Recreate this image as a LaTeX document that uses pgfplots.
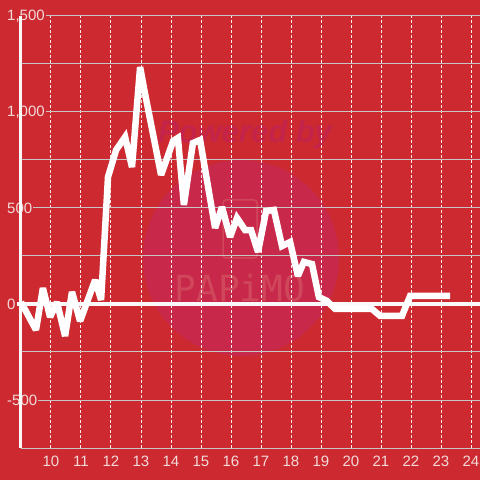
\documentclass[border=0pt]{standalone}
\usepackage{pgfplots}
\pgfplotsset{compat=1.18}
\usepackage{fontspec}
\setmainfont{Liberation Sans}
\newfontfamily\wmono{DejaVu Sans Mono}
\definecolor{bg}{HTML}{CC2A30}
\definecolor{circ}{HTML}{C8294A}
\definecolor{wmtext}{HTML}{C5244A}
\definecolor{wmlogo}{HTML}{D0465A}
\definecolor{gridgray}{HTML}{C9C4C4}
\definecolor{lbl}{HTML}{F2DADA}
\begin{document}
\begin{tikzpicture}[x=1pt,y=1pt]
\fill[bg] (-21,-32) rectangle (459,448);
\fill[circ] (220,190) circle (98);
\node[text=wmtext, font=\fontsize{31}{31}\selectfont\bfseries\itshape, inner sep=0pt] at (224,314) {Powered by};
\node[text=wmlogo, font=\wmono\fontsize{36}{36}\selectfont, inner sep=0pt] at (219,160) {PAPiMO};
\draw[wmlogo, line width=1.5pt, rounded corners=3pt] (202,190) rectangle (236,248);
\begin{axis}[
  at={(0,0)}, anchor=south west,
  scale only axis, width=459pt, height=432pt,
  xmin=9, xmax=24.3, ymin=-750, ymax=1500,
  clip=false,
  axis line style={draw=none},
  major tick length=0pt, minor tick length=0pt,
  /pgf/number format/assume math mode=true,
  xtick={10,...,24},
  xticklabels={10,11,12,13,14,15,16,17,18,19,20,21,22,23,24},
  ytick={-500,0,500,1000,1500},
  minor ytick={-750,-250,250,750,1250},
  yticklabels={-500,0,500,{1,000},{1,500}},
  xmajorgrids, ymajorgrids, yminorgrids,
  major x grid style={draw=white!92!red, line width=1pt, dash pattern=on 3pt off 2pt},
  major y grid style={draw=gridgray, line width=1pt},
  minor y grid style={draw=gridgray, line width=1pt},
  ticklabel style={font=\fontsize{15}{17}\selectfont, text=lbl},
  yticklabel style={anchor=west, xshift=-15pt, fill=bg, inner xsep=1pt, inner ysep=2pt},
  xticklabel style={anchor=north, yshift=-8pt, inner sep=0pt},
]
\draw[white!95!gray, line width=3pt] (axis cs:9,-750) -- (axis cs:9,1500);
\draw[white!95!gray, line width=4pt] (axis cs:8.87,0) -- (axis cs:24.3,0);
\addplot[white, line width=6.5pt, mark=none, line join=miter, miter limit=2.5] coordinates {
(9.00,10) (9.50,-135) (9.73,83) (9.97,-68) (10.20,10) (10.47,-167)
(10.70,63) (10.97,-89) (11.47,125) (11.67,21) (11.90,661) (12.17,802)
(12.47,870) (12.70,713) (12.97,1234) (13.13,1099) (13.67,672) (14.07,849)
(14.23,865) (14.43,516) (14.73,838) (14.97,854) (15.47,396) (15.70,505)
(15.97,349) (16.20,448) (16.47,385) (16.67,385) (16.90,271) (17.17,484)
(17.43,490) (17.70,302) (17.97,323) (18.23,146) (18.43,219) (18.70,208)
(18.93,36) (19.20,16) (19.47,-26) (20.70,-26) (20.97,-62) (21.70,-62)
(21.97,42) (23.30,42)
};
\end{axis}
\pgfresetboundingbox
\useasboundingbox (-21,-32) rectangle (459,448);
\end{tikzpicture}
\end{document}
